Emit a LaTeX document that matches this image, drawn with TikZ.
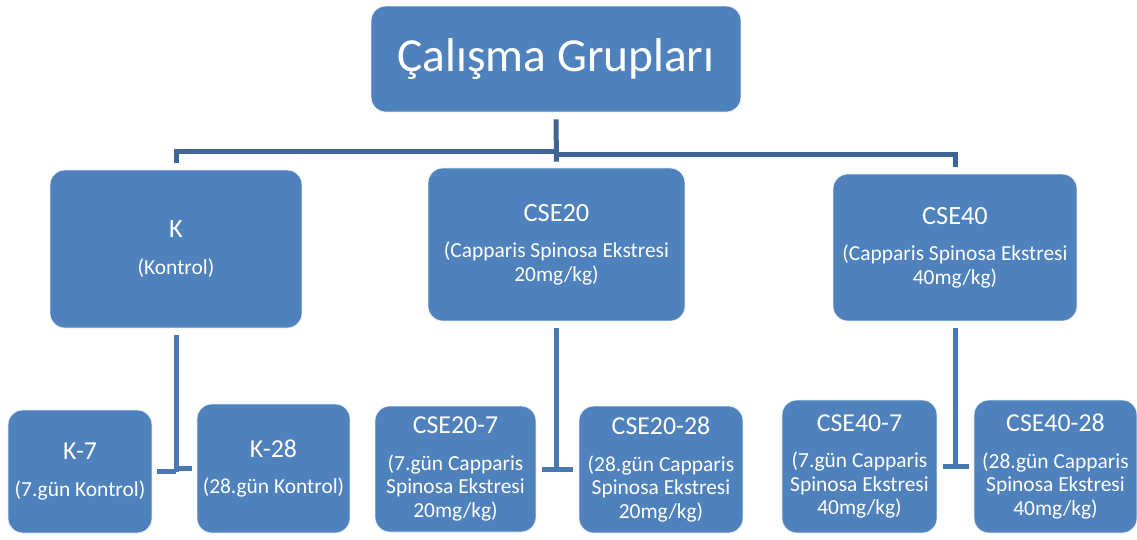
\documentclass[tikz,border=0pt]{standalone}
\usepackage{fontspec}
\setmainfont{Carlito}
\definecolor{grpblue}{RGB}{79,129,189}
\definecolor{topline}{RGB}{61,101,149}
\definecolor{subline}{RGB}{72,121,181}

\begin{document}
\begin{tikzpicture}[x=0.02cm,y=-0.02cm,
    grup/.style={rectangle,rounded corners=0.3cm,fill=grpblue,draw=white!85!grpblue,
        thin,text=white,inner sep=0pt,align=center,
        font={\fontsize{12.2}{13.4}\selectfont}},
    ustcizgi/.style={draw=topline,line width=0.1cm},
    altcizgi/.style={draw=subline,line width=0.1cm}]
    \useasboundingbox (0,0) rectangle (1137,539);

    % ana kutu
    \node[grup,minimum width=7.4cm,minimum height=2.12cm,
        font={\fontsize{27}{32}\selectfont}] (calisma) at (556,59) {Çalışma Grupları};

    % gruplar
    \node[grup,minimum width=5.04cm,minimum height=3.16cm] (k) at (176,249)
        {{\fontsize{15}{18}\selectfont K}\\[7.5pt](Kontrol)};
    \node[grup,minimum width=5.14cm,minimum height=3.06cm] (cse20) at (556.5,244.5)
        {{\fontsize{15}{18}\selectfont CSE20}\\[7.5pt](Capparis Spinosa Ekstresi\\20mg/kg)};
    \node[grup,minimum width=4.88cm,minimum height=2.94cm] (cse40) at (955,247.5)
        {{\fontsize{15}{18}\selectfont CSE40}\\[7.5pt](Capparis Spinosa Ekstresi\\40mg/kg)};

    % alt gruplar
    \node[grup,minimum width=2.88cm,minimum height=2.46cm] (k7) at (80,471.5)
        {{\fontsize{14.7}{18}\selectfont K-7}\\[7.5pt](7.gün Kontrol)};
    \node[grup,minimum width=3.06cm,minimum height=2.58cm] (k28) at (273.5,468.5)
        {{\fontsize{14.7}{18}\selectfont K-28}\\[7.5pt](28.gün Kontrol)};
    \node[grup,minimum width=3.22cm,minimum height=2.52cm] (cse20a) at (455.5,469)
        {{\fontsize{14.7}{18}\selectfont CSE20-7}\\[7.5pt](7.gün Capparis\\Spinosa Ekstresi\\20mg/kg)};
    \node[grup,minimum width=3.28cm,minimum height=2.54cm] (cse20b) at (661,469.5)
        {{\fontsize{14.7}{18}\selectfont CSE20-28}\\[7.5pt](28.gün Capparis\\Spinosa Ekstresi\\20mg/kg)};
    \node[grup,minimum width=3.1cm,minimum height=2.66cm] (cse40a) at (859.5,466.5)
        {{\fontsize{14.7}{18}\selectfont CSE40-7}\\[7.5pt](7.gün Capparis\\Spinosa Ekstresi\\40mg/kg)};
    \node[grup,minimum width=3.26cm,minimum height=2.66cm] (cse40b) at (1055.5,466.5)
        {{\fontsize{14.7}{18}\selectfont CSE40-28}\\[7.5pt](28.gün Capparis\\Spinosa Ekstresi\\40mg/kg)};

    % ust baglantilar
    \coordinate (dugum) at (556,151);
    \draw[ustcizgi] ([yshift=-0.14cm]calisma.south) -- ([yshift=0.12cm]cse20.north);
    \draw[ustcizgi] ([yshift=0.14cm]k.north) |- (dugum);
    \draw[ustcizgi] ([yshift=0.14cm]cse40.north) |- ([yshift=-0.06cm]dugum);

    % alt baglantilar
    \draw[altcizgi] ([yshift=-0.14cm]k.south) -- (k.south |- k7.east);
    \draw[altcizgi] ([xshift=0.1cm]k7.east) -- (k7.east -| k.south);
    \draw[altcizgi] ([xshift=-0.1cm]k28.west) -- (k28.west -| k.south);
    \draw[altcizgi] ([yshift=-0.14cm]cse20.south) -- (cse20.south |- cse20b.west);
    \draw[altcizgi] ([xshift=0.11cm]cse20a.east) -- (cse20a.east -| cse20.south);
    \draw[altcizgi] ([xshift=-0.11cm]cse20b.west) -- (cse20b.west -| cse20.south);
    \draw[altcizgi] ([yshift=-0.14cm]cse40.south) -- (cse40.south |- cse40a.east);
    \draw[altcizgi] ([xshift=0.11cm]cse40a.east) -- (cse40a.east -| cse40.south);
    \draw[altcizgi] ([xshift=-0.1cm]cse40b.west) -- (cse40b.west -| cse40.south);

\end{tikzpicture}
\end{document}
